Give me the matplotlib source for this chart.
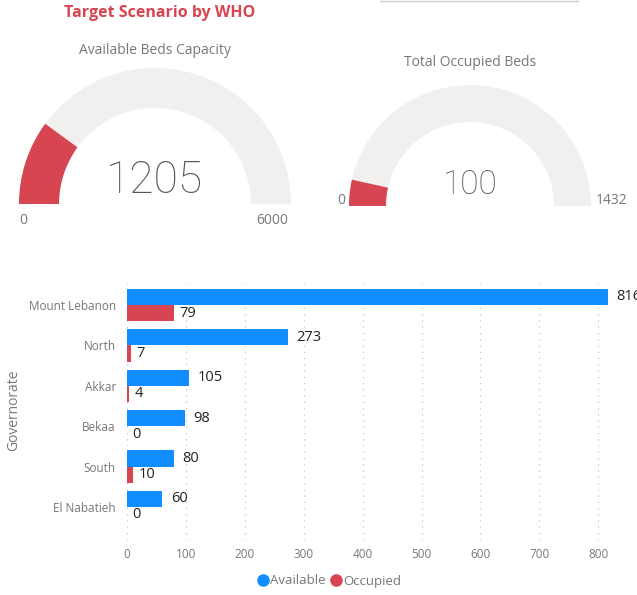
import matplotlib.pyplot as plt
from matplotlib.patches import Wedge
from matplotlib.lines import Line2D
import numpy as np

# gauges
gauge_titles = ['Available Beds Capacity', 'Total Occupied Beds']
gauge_values = [1205, 100]
gauge_max = [6000, 1432]

# bar chart
governorates = ['Mount Lebanon', 'North', 'Akkar', 'Bekaa', 'South', 'El Nabatieh']
available = [816, 273, 105, 98, 80, 60]
occupied = [79, 7, 4, 0, 10, 0]

blue = '#118DFF'
red = '#D64550'
track = '#F1F0EF'
grey = '#777777'
W, H = 637, 595

plt.rcParams['font.family'] = ['Open Sans', 'DejaVu Sans']

fig = plt.figure(figsize=(W / 100, H / 100), dpi=100)

# overlay axes in pixel coordinates (y measured from top)
ov = fig.add_axes([0, 0, 1, 1])
ov.set_xlim(0, W)
ov.set_ylim(H, 0)
ov.axis('off')

ov.text(160, 13, 'Target Scenario by WHO', color=red, fontsize=11.5,
        fontweight='bold', ha='center', va='center')
ov.plot([380, 578], [0.8, 0.8], color='#cccccc', lw=1)

# gauge geometry: centre x, base y, outer r, inner r, title y, number size
specs = [
    dict(cx=155, cy=204, ro=136, ri=96, ty=50, ns=32, ny=181,
         lo=(23, 220), hi=(272, 220)),
    dict(cx=470, cy=206, ro=121, ri=84, ty=62, ns=24, ny=185,
         lo=(341, 200), hi=(612, 200)),
]

for title, val, vmax, s in zip(gauge_titles, gauge_values, gauge_max, specs):
    # y axis inverted -> angles run clockwise from the left
    frac = val / vmax
    ang = 180 * frac
    ov.add_patch(Wedge((s['cx'], s['cy']), s['ro'], 180, 360,
                       width=s['ro'] - s['ri'], facecolor=track, edgecolor='none'))
    ov.add_patch(Wedge((s['cx'], s['cy']), s['ro'], 180, 180 + ang,
                       width=s['ro'] - s['ri'], facecolor=red, edgecolor='none'))
    ov.text(s['cx'], s['ty'], title, color=grey, fontsize=10, ha='center', va='center')
    ov.text(s['cx'], s['ny'], str(val), color='#555555', fontsize=s['ns'],
            fontweight='light', family=['Roboto', 'DejaVu Sans'],
            ha='center', va='center')
    ov.text(s['lo'][0], s['lo'][1], '0', color=grey, fontsize=10,
            ha='center', va='center')
    ov.text(s['hi'][0], s['hi'][1], str(vmax), color=grey, fontsize=10,
            ha='center', va='center')

# bar chart
ax = fig.add_axes([127 / W, (H - 540) / H, (610 - 127) / W, (540 - 283) / H])
y = np.arange(len(governorates))
h = 0.4
ax.barh(y - h / 2, available, height=h, color=blue)
ax.barh(y + h / 2, occupied, height=h, color=red)

for yi, a, o in zip(y, available, occupied):
    ax.annotate(str(a), (a, yi - h / 2), xytext=(6, 0), textcoords='offset points',
                va='center', ha='left', fontsize=10.5, color='#222222',
                annotation_clip=False)
    ax.annotate(str(o), (o, yi + h / 2), xytext=(4, 0), textcoords='offset points',
                va='center', ha='left', fontsize=10.5, color='#222222',
                annotation_clip=False)

ax.set_xlim(0, 820)
ax.set_ylim(5.82, -0.545)
ax.set_xticks(np.arange(0, 801, 100))
ax.set_yticks(y)
ax.set_yticklabels(governorates)
ax.tick_params(length=0, colors=grey, labelsize=8.5)
ax.tick_params(axis='y', pad=8)
ax.tick_params(axis='x', pad=6)
ax.grid(axis='x', linestyle=(0, (1, 4)), color='#c8c8c8', lw=0.9)
ax.set_axisbelow(True)
for sp in ax.spines.values():
    sp.set_visible(False)

fig.text(14 / W, 1 - 410 / H, 'Governorate', rotation=90, color=grey,
         fontsize=10, ha='center', va='center')

handles = [Line2D([], [], marker='o', ls='none', color=blue, markersize=8),
           Line2D([], [], marker='o', ls='none', color=red, markersize=8)]
fig.legend(handles, ['Available', 'Occupied'], loc='center',
           bbox_to_anchor=(329 / W, 1 - 581 / H), ncol=2, frameon=False,
           handletextpad=0.05, columnspacing=0.3, labelcolor=grey, fontsize=9.5,
           handlelength=1)

fig.savefig('out.png', dpi=100)
